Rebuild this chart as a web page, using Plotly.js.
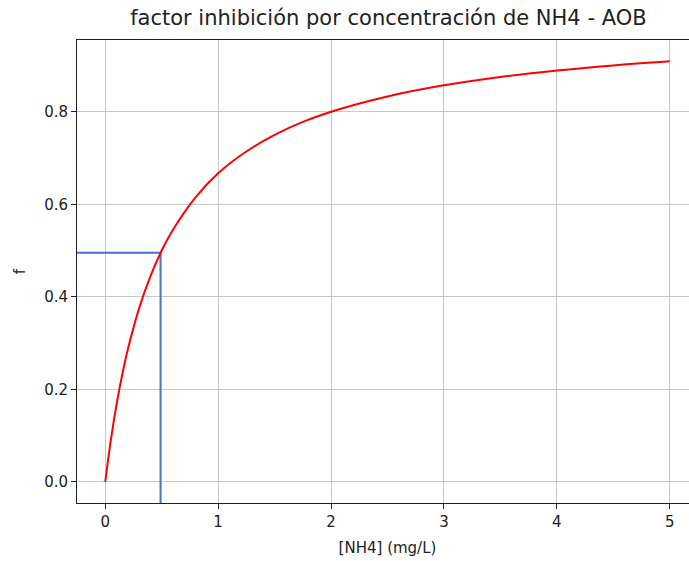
<!DOCTYPE html>
<html>
<head>
<meta charset="utf-8">
<script src="https://cdn.plot.ly/plotly-3.0.1.min.js"></script>
<style>
html,body{margin:0;padding:0;overflow:hidden;background:#fff;width:689px;height:561px;}
#chart{width:710px;height:561px;}
</style>
</head>
<body>
<div id="chart"></div>
<script>
// concentration of NH4 (mg/L)
const nh4 = [0, 0.05, 0.1, 0.15, 0.2, 0.3, 0.4, 0.5, 0.6, 0.8, 1, 1.25, 1.5, 1.75, 2, 2.5, 3, 3.5, 4, 4.5, 5];
// inhibition factor
const factor = [0, 0.091, 0.167, 0.231, 0.286, 0.375, 0.444, 0.5, 0.545, 0.615, 0.667, 0.714, 0.75, 0.778, 0.8, 0.833, 0.857, 0.875, 0.889, 0.9, 0.909];
// reference guide (half-saturation point)
const guideX = [-0.25, 0.49, 0.49];
const guideY = [0.495, 0.495, -0.0455];

const xTicks = [0, 1, 2, 3, 4, 5];
const yTicks = [0.0, 0.2, 0.4, 0.6, 0.8];
const yTickText = ['0.0', '0.2', '0.4', '0.6', '0.8'];

const font = {family: 'DejaVu Sans', size: 15, color: '#222'};

const traces = [
  {x: guideX, y: guideY, mode: 'lines', line: {color: '#4472C4', width: 2}, hoverinfo: 'skip'},
  {x: nh4, y: factor, mode: 'lines', line: {color: '#ff0000', width: 2, shape: 'spline', smoothing: 1.0}}
];

const layout = {
  width: 710, height: 561,
  margin: {l: 77, r: 12, t: 40, b: 58},
  paper_bgcolor: '#fff', plot_bgcolor: '#fff',
  showlegend: false,
  font: font,
  title: {text: 'factor inhibición por concentración de NH4 - AOB', font: {family: 'DejaVu Sans', size: 21, color: '#222'}, x: 0.547, xanchor: 'center', y: 0.968, yanchor: 'middle'},
  xaxis: {
    range: [-0.25, 5.25], tickvals: xTicks, ticktext: xTicks.map(String),
    showgrid: true, gridcolor: '#c8c8c8', gridwidth: 1, zeroline: false,
    showline: true, linecolor: '#222', linewidth: 1, mirror: true,
    ticks: 'outside', ticklen: 5, tickcolor: '#222', tickfont: font,
    title: {text: '[NH4] (mg/L)', font: font, standoff: 12}
  },
  yaxis: {
    range: [-0.0455, 0.955], tickvals: yTicks, ticktext: yTickText,
    showgrid: true, gridcolor: '#c8c8c8', gridwidth: 1, zeroline: false,
    showline: true, linecolor: '#222', linewidth: 1, mirror: true,
    ticks: 'outside', ticklen: 5, tickcolor: '#222', tickfont: font,
    title: {text: 'f', font: font, standoff: 14}
  }
};

Plotly.newPlot('chart', traces, layout, {displayModeBar: false, staticPlot: true});
</script>
</body>
</html>
